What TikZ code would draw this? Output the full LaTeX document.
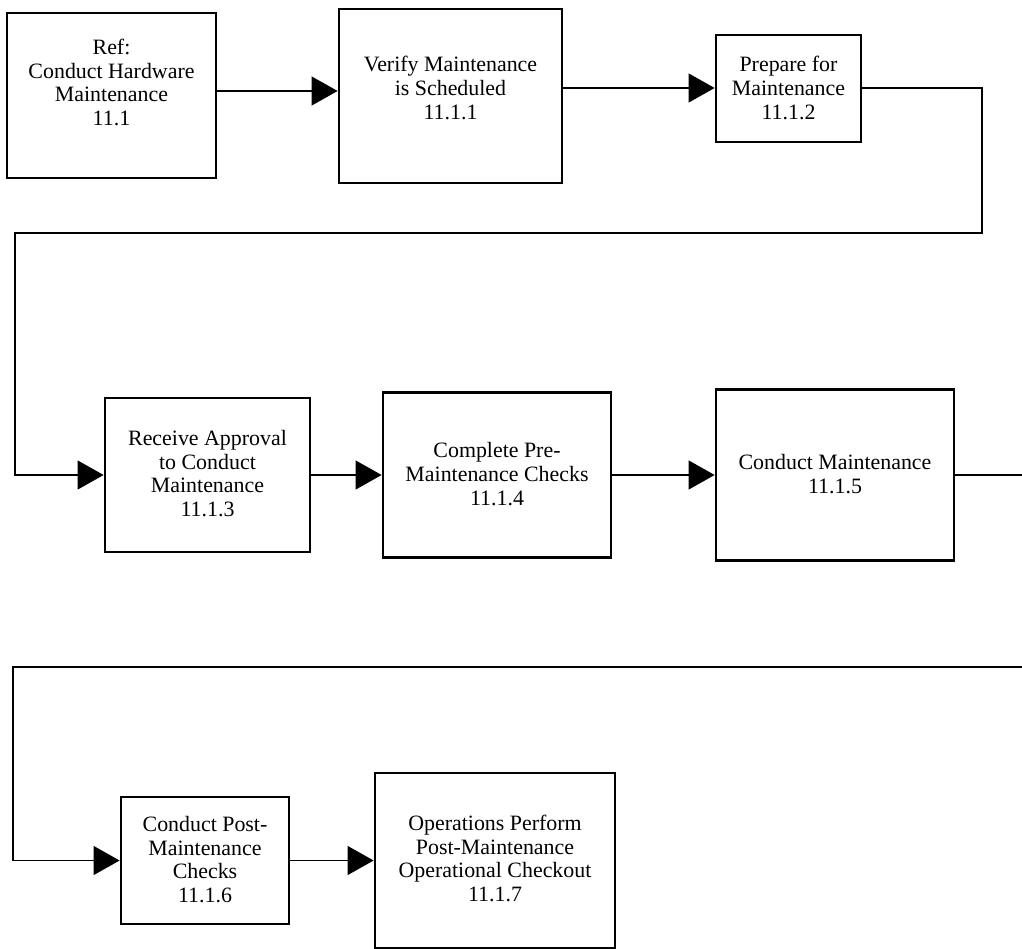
\documentclass[tikz,border=0pt]{standalone}
\usepackage{fontspec}
\setmainfont{Liberation Serif}
\usetikzlibrary{arrows.meta}
\tikzset{
  box/.style={draw=black, line width=2.8pt, rectangle, inner sep=0pt},
  lbl/.style={align=center, font=\fontsize{21.9}{23.7}\selectfont, inner sep=0pt},
  flow/.style={line width=1.1pt, -{Triangle[length=26pt,width=29pt]}},
  link/.style={line width=1.1pt}
}
\begin{document}
\begin{tikzpicture}[x=1pt,y=-1pt]
\useasboundingbox (0,0) rectangle (1022,949);
\fill[white] (0,0) rectangle (1022,949);
\clip (0,0) rectangle (1022,949);

% row 1
\node[box, minimum width=209pt, minimum height=165pt] (A) at (111.5,95.5) {};
\node[lbl] (At) at (111.5,82.5) {Ref:\\Conduct Hardware\\Maintenance\\11.1};
\node[box, minimum width=223pt, minimum height=174pt] (B) at (450.5,96) {};
\node[lbl] (Bt) at (450.5,88) {Verify Maintenance\\is Scheduled\\11.1.1};
\node[box, minimum width=145pt, minimum height=107pt] (C) at (788.5,88.5) {};
\node[lbl] (Ct) at (788.5,88) {Prepare for\\Maintenance\\11.1.2};

% row 2
\node[box, minimum width=205pt, minimum height=154pt] (D) at (207.5,475) {};
\node[lbl] (Dt) at (207.5,473.5) {Receive Approval\\to Conduct\\Maintenance\\11.1.3};
\node[box, minimum width=228pt, minimum height=165pt] (E) at (497,475) {};
\node[lbl] (Et) at (497,474) {Complete Pre-\\Maintenance Checks\\11.1.4};
\node[box, minimum width=238pt, minimum height=171pt] (F) at (835,475) {};
\node[lbl] (Ft) at (835,474) {Conduct Maintenance\\11.1.5};

% row 3
\node[box, minimum width=168pt, minimum height=127pt] (G) at (205,860.5) {};
\node[lbl] (Gt) at (205,859.5) {Conduct Post-\\Maintenance\\Checks\\11.1.6};
\node[box, minimum width=240pt, minimum height=175pt] (H) at (495,860.5) {};
\node[lbl] (Ht) at (495,858.5) {Operations Perform\\Post-Maintenance\\Operational Checkout\\11.1.7};

% helper coordinates
\coordinate (r1) at (0,91);
\coordinate (r2) at (0,88);
\coordinate (c1) at (982,88);
\coordinate (c2) at (982,233);
\coordinate (c3) at (15,233);
\coordinate (c4) at (15,475);
\coordinate (d1) at (1035,475);
\coordinate (d2) at (1035,667);
\coordinate (d3) at (13,667);
\coordinate (d4) at (13,860.5);

% connectors
\draw[flow] (A.east |- r1) -- (B.west |- r1);
\draw[flow] (B.east |- r2) -- (C.west |- r2);
\draw[flow] (C.east |- c1) -- (c1) -- (c2) -- (c3) -- (c4) -- (D.west);
\draw[flow] (D.east) -- (E.west);
\draw[flow] (E.east) -- (F.west);
\draw[flow] (F.east) -- (d1) -- (d2) -- (d3) -- (d4) -- (G.west);
\draw[flow] (G.east) -- (H.west);
\end{tikzpicture}
\end{document}
